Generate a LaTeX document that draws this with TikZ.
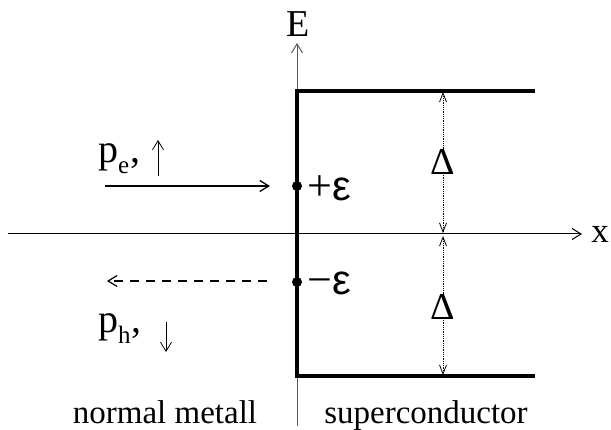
\documentclass[tikz,border=0pt]{standalone}
\usepackage{fontspec}
\setmainfont{Liberation Serif}
\newfontfamily\epsfont{Liberation Sans}
\usetikzlibrary{arrows.meta, positioning}

\newcommand{\plab}[1]{p\raisebox{-11pt}{\fontsize{25}{27}\selectfont #1}\hspace{1pt},}

\tikzset{
  barb/.style={-{Straight Barb[length=9pt, width=11pt]}},
  gap/.style={densely dotted, line width=0.8pt, -{Straight Barb[length=9pt, width=7pt]}},
  lbl/.style={font=\fontsize{33}{38}\selectfont, inner sep=0pt},
  big/.style={font=\fontsize{38}{42}\selectfont, inner sep=0pt},
  huge/.style={font=\fontsize{44}{48}\selectfont, inner sep=0pt},
}

\begin{document}
\begin{tikzpicture}[x=1pt, y=-1pt]
  \useasboundingbox (0,0) rectangle (611,430);
  % axes
  \coordinate (xl) at (8,234);
  \coordinate (xr) at (582,234);
  \coordinate (eb) at (297,426);
  \coordinate (et) at (297,43);
  \draw[line width=1pt, barb] (xl) -- (xr);
  \draw[line width=1pt, gray!70!black, barb] (eb) -- (et);
  \node[big, anchor=base] (E) at (298.5,37) {E};
  \node[lbl, font=\fontsize{35}{38}\selectfont, anchor=base] (xlab) at (600,243) {x};
  % gap edge
  \draw[line width=3.2pt] (535,91) -- (297,91) -- (297,376) -- (535,376);
  \fill (297,186) circle (5pt) coordinate (pe);
  \fill (297,282) circle (5pt) coordinate (ph);
  \node[huge, anchor=base west] (plus) at (307,201) {+\epsfont\fontsize{42}{46}\selectfont ε};
  \node[huge, anchor=base west] (minus) at (307,295) {−\epsfont\fontsize{42}{46}\selectfont ε};
  % incoming electron, reflected hole
  \coordinate (ein) at (105,186);
  \coordinate (eout) at (270,186);
  \draw[line width=1.3pt, barb] (ein) -- (eout);
  \coordinate (hin) at (267,281);
  \coordinate (hout) at (107,281);
  \draw[line width=1.2pt, dashed, dash pattern=on 9pt off 7pt, barb] (hin) -- (hout);
  \node[big, font=\fontsize{40}{44}\selectfont, anchor=base west] (pel) at (98,163) {\plab{e}};
  \draw[line width=0.8pt, barb] (158,176) -- (158,140);
  \node[big, font=\fontsize{40}{44}\selectfont, anchor=base west] (phl) at (98,333) {\plab{h}};
  \draw[line width=0.8pt, barb] (166,322) -- (166,352);
  % gap widths
  \node[big] (dup) at (443,162) {Δ};
  \node[big] (ddn) at (443,307) {Δ};
  \draw[gap] (dup.north) -- (443,92);
  \draw[gap] (dup.south) -- (443,233);
  \draw[gap] (ddn.north) -- (443,236);
  \draw[gap] (ddn.south) -- (443,375);
  % regions
  \node[lbl, anchor=base] (nm) at (165,424) {normal metall};
  \node[lbl, anchor=base] (sc) at (426,424) {superconductor};
\end{tikzpicture}
\end{document}
